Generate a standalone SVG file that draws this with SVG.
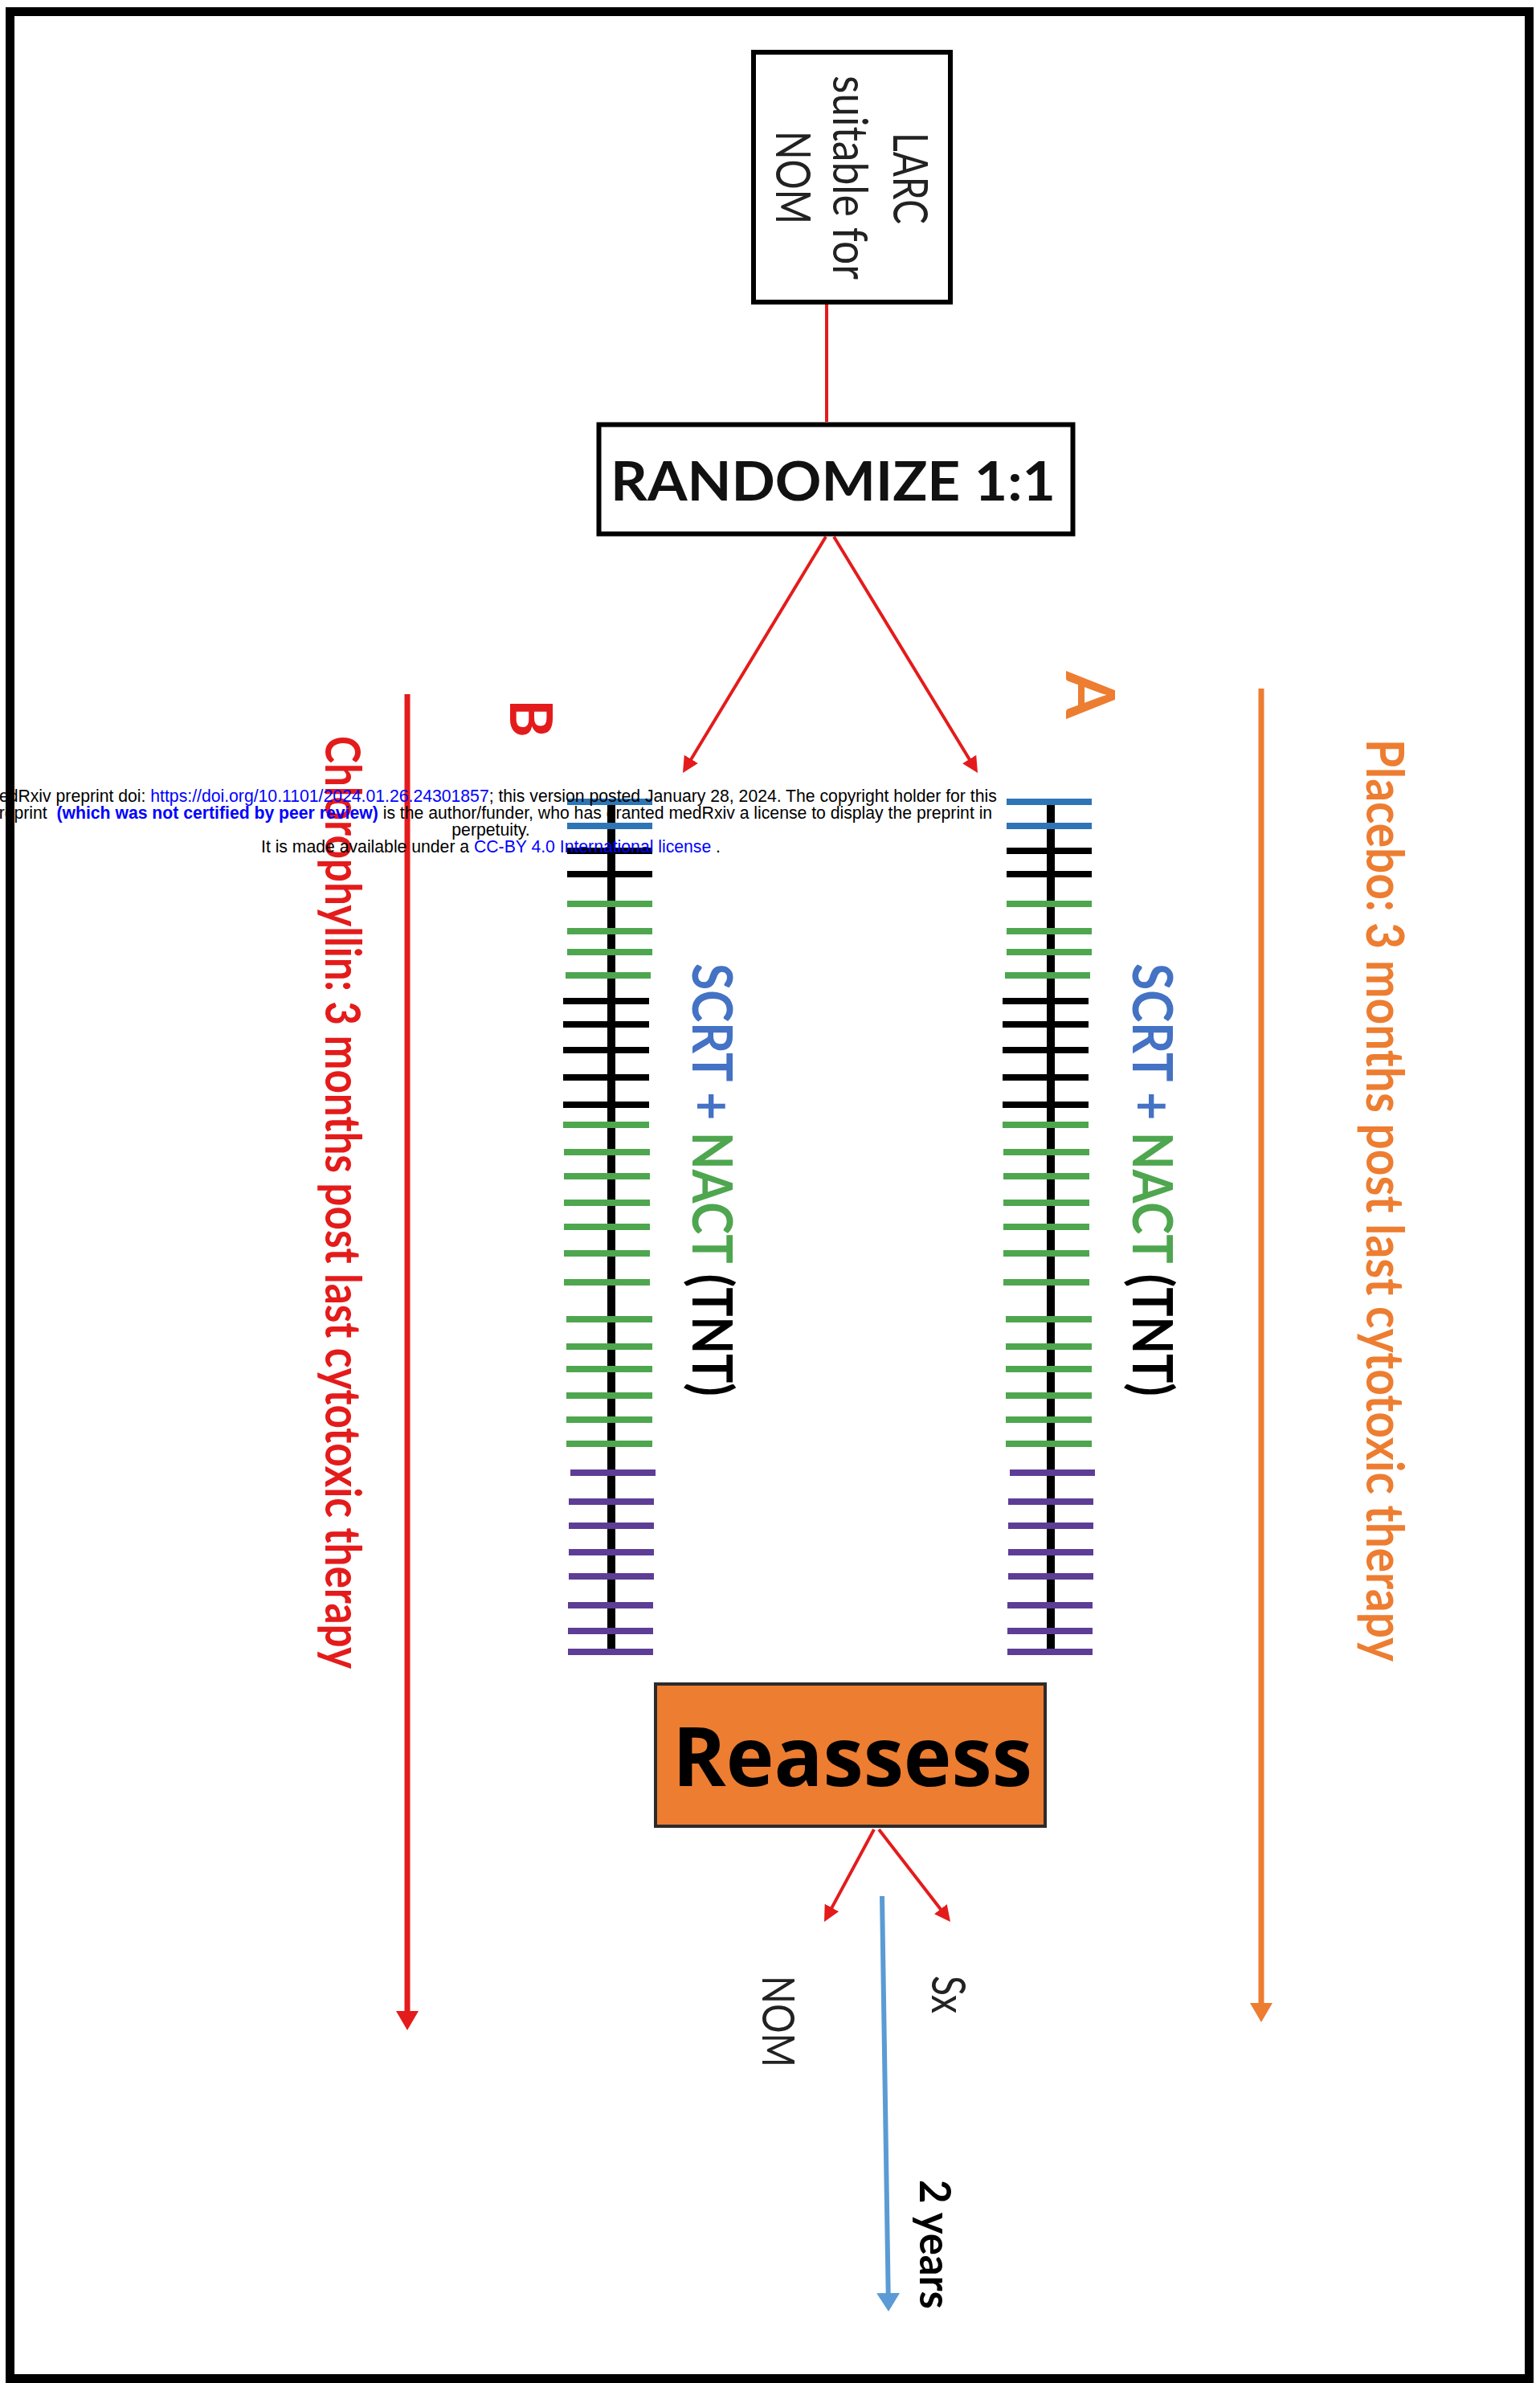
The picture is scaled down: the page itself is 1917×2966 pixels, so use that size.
<svg xmlns="http://www.w3.org/2000/svg" xmlns:xlink="http://www.w3.org/1999/xlink" width="1917" height="2966" viewBox="0 0 1917 2966">
<style>
.frame{fill:none;stroke:#000;stroke-width:11}
.box{fill:#fff;stroke:#000;stroke-width:6}
.reassess{fill:#ED7D31;stroke:#2b2b2b;stroke-width:4}
.f{font-family:Lato,"Open Sans","Liberation Sans",sans-serif}
.b{font-weight:700}
.dark{fill:#222}
.red{fill:#E41B1B}
.org{fill:#ED7D31}
.thin{stroke:#E41B1B;stroke-width:4;fill:none}
.thick{stroke:#E41B1B;stroke-width:7;fill:none}
.othick{stroke:#ED7D31;stroke-width:7;fill:none}
.blue{stroke:#5B9BD5;stroke-width:6;fill:none}
.tick line{stroke-width:8}
.tb{stroke:#2E75B6}.tk{stroke:#000}.tg{stroke:#4EA64F}.tp{stroke:#5D3D96}
.wm{font-family:"Liberation Sans",Arial,sans-serif;font-size:21.2px;fill:#000}
.wl{fill:#0000FF}
</style>
<defs>
<marker id="ahRed" markerUnits="userSpaceOnUse" markerWidth="20" markerHeight="20" refX="8" refY="10" orient="auto"><path d="M0,0 L20,10 L0,20 z" fill="#E41B1B"/></marker>
<marker id="ahRedBig" markerUnits="userSpaceOnUse" markerWidth="24" markerHeight="28" refX="8" refY="14" orient="auto"><path d="M0,0 L24,14 L0,28 z" fill="#E41B1B"/></marker>
<marker id="ahOrg" markerUnits="userSpaceOnUse" markerWidth="24" markerHeight="28" refX="8" refY="14" orient="auto"><path d="M0,0 L24,14 L0,28 z" fill="#ED7D31"/></marker>
<marker id="ahBlue" markerUnits="userSpaceOnUse" markerWidth="23" markerHeight="29" refX="8" refY="14.5" orient="auto"><path d="M0,0 L23,14.5 L0,29 z" fill="#5B9BD5"/></marker>
<g id="ladder">
<line x1="761" y1="998" x2="761" y2="2056" stroke="#000" stroke-width="10"/>
<g class="tick">
<g class="tb"><line x1="706" y1="998" x2="812" y2="998"/><line x1="706" y1="1028" x2="812" y2="1028"/></g>
<g class="tk"><line x1="706" y1="1059" x2="812" y2="1059"/><line x1="706" y1="1088" x2="812" y2="1088"/></g>
<g class="tg"><line x1="706" y1="1125" x2="812" y2="1125"/><line x1="706" y1="1159" x2="812" y2="1159"/><line x1="706" y1="1185" x2="812" y2="1185"/><line x1="704" y1="1214" x2="810" y2="1214"/></g>
<g class="tk"><line x1="701" y1="1246" x2="808" y2="1246"/><line x1="701" y1="1275" x2="808" y2="1275"/><line x1="701" y1="1307" x2="808" y2="1307"/><line x1="701" y1="1341" x2="808" y2="1341"/><line x1="701" y1="1375" x2="808" y2="1375"/></g>
<g class="tg"><line x1="701" y1="1400" x2="808" y2="1400"/><line x1="702" y1="1434" x2="809" y2="1434"/><line x1="702" y1="1464" x2="809" y2="1464"/><line x1="702" y1="1497" x2="809" y2="1497"/><line x1="702" y1="1527" x2="809" y2="1527"/><line x1="702" y1="1560" x2="809" y2="1560"/><line x1="702" y1="1596" x2="809" y2="1596"/></g>
<g class="tg"><line x1="705" y1="1642" x2="812" y2="1642"/><line x1="705" y1="1676" x2="812" y2="1676"/><line x1="705" y1="1704" x2="812" y2="1704"/><line x1="705" y1="1737" x2="812" y2="1737"/><line x1="705" y1="1767" x2="812" y2="1767"/><line x1="705" y1="1797" x2="812" y2="1797"/></g>
<g class="tp"><line x1="710" y1="1833" x2="816" y2="1833"/><line x1="708" y1="1869" x2="814" y2="1869"/><line x1="708" y1="1899" x2="814" y2="1899"/><line x1="708" y1="1932" x2="814" y2="1932"/><line x1="708" y1="1962" x2="814" y2="1962"/><line x1="707" y1="1998" x2="813" y2="1998"/><line x1="707" y1="2030" x2="813" y2="2030"/><line x1="707" y1="2056" x2="813" y2="2056"/></g>
</g>
</g>
</defs>
<rect x="0" y="0" width="1917" height="2966" fill="#fff"/>
<rect class="frame" x="12.5" y="14.5" width="1891" height="2946"/>

<g id="connectors">
<line class="thin" x1="1029" y1="379" x2="1029" y2="525"/>
<line class="thin" x1="1028" y1="668" x2="856.2" y2="951.7" marker-end="url(#ahRed)"/>
<line class="thin" x1="1038" y1="668" x2="1210.8" y2="951.8" marker-end="url(#ahRed)"/>
<line class="thin" x1="1088" y1="2277" x2="1031.7" y2="2381.4" marker-end="url(#ahRed)"/>
<line class="thin" x1="1094" y1="2277" x2="1175.7" y2="2382.5" marker-end="url(#ahRed)"/>
<line class="thick" x1="507" y1="864" x2="507" y2="2511" marker-end="url(#ahRedBig)"/>
<line class="othick" x1="1570" y1="857" x2="1570" y2="2501" marker-end="url(#ahOrg)"/>
<line class="blue" x1="1098" y1="2360" x2="1105.8" y2="2862" marker-end="url(#ahBlue)"/>
</g>

<g id="larc">
<rect class="box" x="938" y="65" width="245" height="311"/>
<text class="f dark" font-size="60" text-anchor="middle" transform="translate(1112,222) rotate(90)" textLength="114" lengthAdjust="spacingAndGlyphs">LARC</text>
<text class="f dark" font-size="60" text-anchor="middle" transform="translate(1037,221) rotate(90)" textLength="254" lengthAdjust="spacingAndGlyphs">suitable for</text>
<text class="f dark" font-size="60" text-anchor="middle" transform="translate(966,221) rotate(90)" textLength="116" lengthAdjust="spacingAndGlyphs">NOM</text>
</g>

<g id="randomize">
<rect class="box" x="745.5" y="528.5" width="590" height="136" stroke-width="7"/>
<text class="f b" font-size="66" x="1037" y="623" text-anchor="middle" textLength="554" lengthAdjust="spacingAndGlyphs" fill="#111">RANDOMIZE 1:1</text>
</g>

<g id="arm-b">
<text class="f b red" font-size="72" text-anchor="middle" transform="translate(635,894) rotate(90)">B</text>
<text class="f b red" font-size="61" text-anchor="middle" transform="translate(405,1496.5) rotate(90)" textLength="1161" lengthAdjust="spacingAndGlyphs">Chlorophyllin: 3 months post last cytotoxic therapy</text>
</g>

<g id="arm-a">
<text class="f b org" font-size="85" text-anchor="middle" transform="translate(1327,865) rotate(90)">A</text>
<text class="f b org" font-size="65" text-anchor="middle" transform="translate(1701,1494) rotate(90)" textLength="1148" lengthAdjust="spacingAndGlyphs">Placebo: 3 months post last cytotoxic therapy</text>
</g>

<g id="ladder-b">
<use xlink:href="#ladder"/>
<text class="f b" font-size="69" text-anchor="middle" transform="translate(862,1468.5) rotate(90)" textLength="539" lengthAdjust="spacingAndGlyphs"><tspan fill="#4472C4">SCRT + </tspan><tspan fill="#4EA64F">NACT</tspan><tspan fill="#000"> (TNT)</tspan></text>
</g>

<g id="ladder-a">
<use xlink:href="#ladder" transform="translate(547,0)"/>
<text class="f b" font-size="69" text-anchor="middle" transform="translate(1410,1468.5) rotate(90)" textLength="539" lengthAdjust="spacingAndGlyphs"><tspan fill="#4472C4">SCRT + </tspan><tspan fill="#4EA64F">NACT</tspan><tspan fill="#000"> (TNT)</tspan></text>
</g>

<g id="reassess">
<rect class="reassess" x="816" y="2096" width="485" height="177"/>
<text font-family="'Open Sans',Lato,'Liberation Sans',sans-serif" font-weight="700" font-size="102" x="1061" y="2223" text-anchor="middle" textLength="448" lengthAdjust="spacingAndGlyphs" fill="#000">Reassess</text>
</g>

<g id="nom">
<text class="f dark" font-size="57" text-anchor="middle" transform="translate(949,2516) rotate(90)" textLength="114" lengthAdjust="spacingAndGlyphs">NOM</text>
</g>
<g id="sx">
<text class="f dark" font-size="58" text-anchor="middle" transform="translate(1160,2482.5) rotate(90)" textLength="47" lengthAdjust="spacingAndGlyphs">Sx</text>
</g>
<g id="two-years">
<text class="f b" font-size="54" fill="#000" text-anchor="middle" transform="translate(1145,2793.5) rotate(90)" textLength="161" lengthAdjust="spacingAndGlyphs">2 years</text>
</g>

<g id="watermark" class="wm" text-anchor="middle">
<text x="611" y="998">medRxiv preprint doi: <tspan class="wl">https://doi.org/10.1101/2024.01.26.24301857</tspan>; this version posted January 28, 2024. The copyright holder for this</text>
<text x="611" y="1019" xml:space="preserve">preprint  <tspan class="wl" font-weight="700">(which was not certified by peer review)</tspan> is the author/funder, who has granted medRxiv a license to display the preprint in</text>
<text x="611" y="1040">perpetuity.</text>
<text x="611" y="1061">It is made available under a <tspan class="wl">CC-BY 4.0 International license</tspan> .</text>
</g>
</svg>
